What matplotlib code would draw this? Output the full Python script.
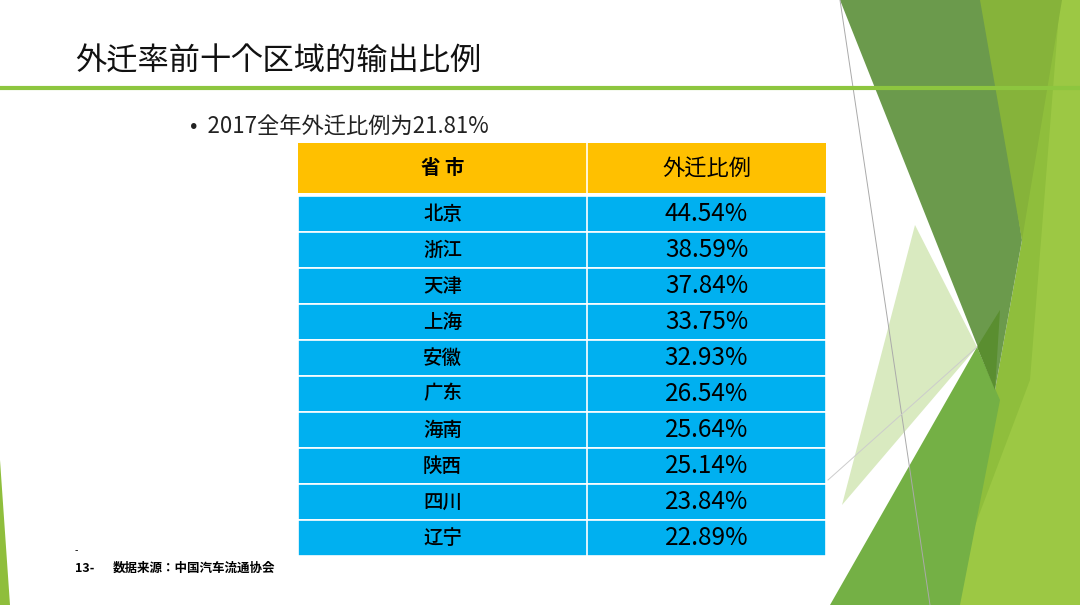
import matplotlib.pyplot as plt
from matplotlib import font_manager as fm
from matplotlib.patches import Polygon, Rectangle

cjk = [f.name for f in fm.fontManager.ttflist if 'CJK' in f.name]
cjk_name = 'Noto Sans CJK SC' if 'Noto Sans CJK SC' in cjk else (cjk[0] if cjk else 'DejaVu Sans')
plt.rcParams['font.family'] = [cjk_name, 'DejaVu Sans']

title = "外迁率前十个区域的输出比例"
subtitle = "2017全年外迁比例为21.81%"
col_headers = ["省 市", "外迁比例"]
provinces = ["北京", "浙江", "天津", "上海", "安徽", "广东", "海南", "陕西", "四川", "辽宁"]
shares = [44.54, 38.59, 37.84, 33.75, 32.93, 26.54, 25.64, 25.14, 23.84, 22.89]
footer = "数据来源：中国汽车流通协会"

fig = plt.figure(figsize=(10.8, 6.05), dpi=100)
ax = fig.add_axes([0, 0, 1, 1])
ax.set_xlim(0, 1080)
ax.set_ylim(605, 0)
ax.axis('off')

# background green shapes on the right
shapes = [
    ([(980, 0), (1080, 0), (1080, 605), (930, 605), (995, 390), (1022, 240)], '#8fbe3c'),
    ([(1060, 0), (1080, 0), (1080, 605), (945, 605), (1030, 380)], '#9cc844'),
    ([(840, 0), (985, 0), (1022, 240), (995, 390)], '#6b9a4c'),
    ([(980, 0), (1062, 0), (1022, 240)], '#86b33a'),
    ([(830, 605), (977, 347), (1000, 400), (960, 605)], '#74b045'),
    ([(842, 505), (915, 225), (977, 347)], '#d9eac0'),
    ([(977, 347), (1000, 310), (995, 390)], '#5a8e30'),
    ([(0, 460), (10, 605), (0, 605)], '#8fbe3c'),
]
for pts, c in shapes:
    ax.add_patch(Polygon(pts, closed=True, facecolor=c, edgecolor='none', zorder=1))
ax.plot([840, 930], [0, 605], color='#aaaaaa', lw=0.7, zorder=2)
ax.plot([828, 977], [480, 347], color='#cccccc', lw=0.7, zorder=2)

# title and rule
ax.text(75, 62, title, fontsize=22.5, va='center', ha='left', color='#111111', zorder=3)
ax.plot([0, 1080], [88, 88], color='#8dc63f', lw=3, zorder=2)
ax.text(190, 127, "•  " + subtitle, fontsize=16, va='center', ha='left', color='#222222', zorder=3)

# table
x0, xm, x1 = 298, 587, 826
hy0, hy1 = 143, 193
ry0, rh = 196, 36
ax.add_patch(Rectangle((x0, hy0), x1 - x0, hy1 - hy0, facecolor='#ffc000', edgecolor='none', zorder=3))
ax.text((x0 + xm) / 2, (hy0 + hy1) / 2, col_headers[0], fontsize=14, fontweight='bold', ha='center', va='center', zorder=4)
ax.text((xm + x1) / 2, (hy0 + hy1) / 2, col_headers[1], fontsize=16, ha='center', va='center', zorder=4)
for i, (p, s) in enumerate(zip(provinces, shares)):
    y = ry0 + i * rh
    ax.add_patch(Rectangle((x0, y), x1 - x0, rh, facecolor='#00b0f0', edgecolor='white', lw=1.2, zorder=3))
    ax.text((x0 + xm) / 2, y + rh / 2, p, fontsize=14, fontweight='medium', ha='center', va='center', zorder=4)
    ax.text((xm + x1) / 2, y + rh / 2, f"{s:.2f}%", fontsize=17.5, ha='center', va='center', zorder=4)
ax.plot([xm, xm], [hy0, ry0 + 10 * rh], color='white', lw=1.2, zorder=4)

# footer
ax.text(75, 551, "-", fontsize=7, ha='left', va='center')
ax.text(75, 568, "13-", fontsize=9, fontweight='bold', ha='left', va='center')
ax.text(113, 568, footer, fontsize=9, fontweight='bold', ha='left', va='center')

fig.savefig('out.png', dpi=100)
